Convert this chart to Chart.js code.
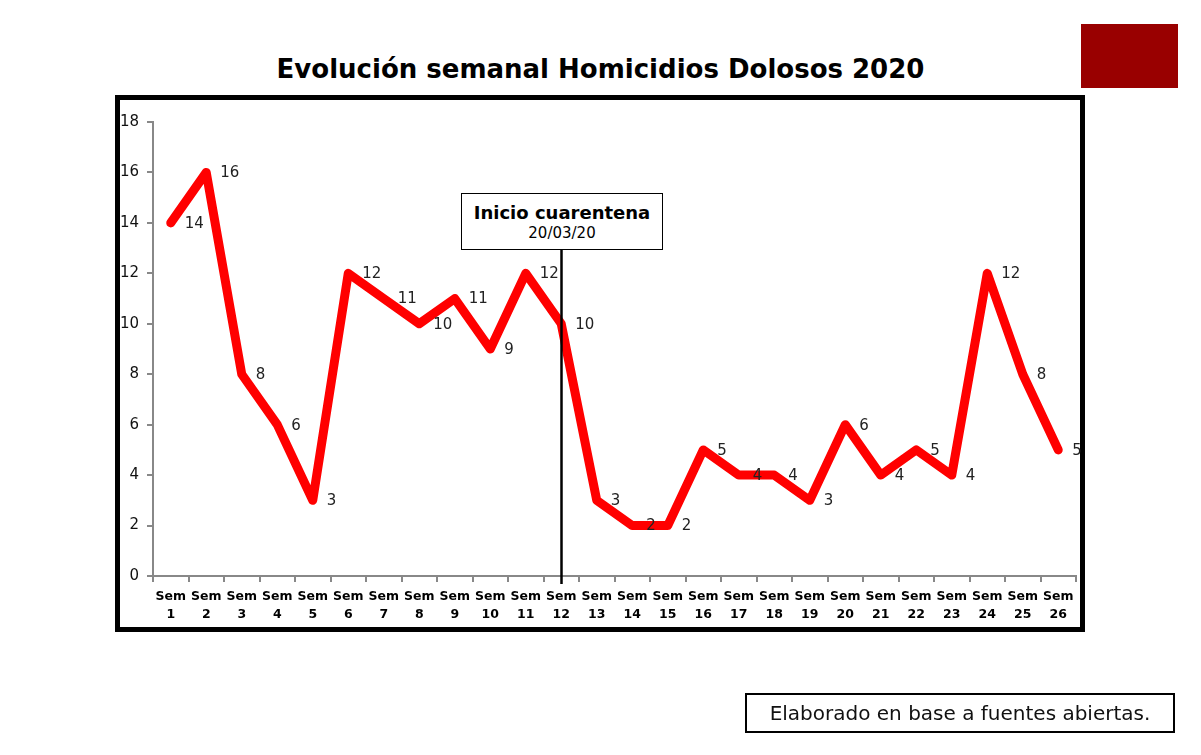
<!DOCTYPE html>
<html>
<head>
<meta charset="utf-8">
<script src="https://cdn.jsdelivr.net/npm/chart.js@4.4.1/dist/chart.umd.min.js"></script>
<style>
  html, body { margin: 0; padding: 0; background: #fff; }
  #wrap { position: relative; width: 1201px; height: 755px; overflow: hidden; font-family: "DejaVu Sans", sans-serif; }
  #title { position: absolute; left: 0; width: 1201px; top: 54px; text-align: center; font-size: 26px; font-weight: bold; color: #000; }
  #redbox { position: absolute; left: 1081px; top: 24px; width: 97px; height: 64px; background: #990000; }
  #frame { position: absolute; left: 115px; top: 95px; width: 960px; height: 527px; border: 5px solid #000; }
  #anno { position: absolute; left: 461px; top: 193px; width: 200px; height: 55px; border: 1px solid #000; background: #fff; text-align: center; }
  #anno .a1 { font-size: 18px; font-weight: bold; margin-top: 8px; }
  #anno .a2 { font-size: 15px; margin-top: 1px; }
  #foot { position: absolute; left: 745px; top: 693px; width: 426px; height: 36px; border: 2px solid #000; text-align: center; font-size: 20px; line-height: 36px; color: #111; }
  canvas { position: absolute; left: 0; top: 0; }
</style>
</head>
<body>
<div id="wrap">
  <div id="title">Evolución semanal Homicidios Dolosos 2020</div>
  <div id="redbox"></div>
  <div id="frame"></div>
  <canvas id="c" width="1201" height="755"></canvas>
  <div id="anno"><div class="a1">Inicio cuarentena</div><div class="a2">20/03/20</div></div>
  <div id="foot">Elaborado en base a fuentes abiertas.</div>
</div>
<script>
const weeks = ["1","2","3","4","5","6","7","8","9","10","11","12","13","14","15","16","17","18","19","20","21","22","23","24","25","26"];
const homicidios = [14,16,8,6,3,12,11,10,11,9,12,10,3,2,2,5,4,4,3,6,4,5,4,12,8,5];
const yTicks = [0,2,4,6,8,10,12,14,16,18];
const quarantineWeek = "12";

const labels = weeks.map(w => ["Sem", w]);

const valueLabels = {
  id: 'valueLabels',
  afterDatasetsDraw(chart) {
    const ctx = chart.ctx;
    const meta = chart.getDatasetMeta(0);
    ctx.save();
    ctx.font = '15px "DejaVu Sans", sans-serif';
    ctx.fillStyle = '#222';
    ctx.textAlign = 'left';
    ctx.textBaseline = 'middle';
    meta.data.forEach((pt, i) => {
      ctx.fillText(String(homicidios[i]), pt.x + 14, pt.y + 1);
    });
    ctx.restore();
  }
};

const quarantineLine = {
  id: 'quarantineLine',
  afterDatasetsDraw(chart) {
    const ctx = chart.ctx;
    const xs = chart.scales.x;
    const idx = weeks.indexOf(quarantineWeek);
    const x = Math.round(xs.getPixelForValue(idx)) + 0.5;
    ctx.save();
    ctx.strokeStyle = '#000';
    ctx.lineWidth = 2.5;
    ctx.beginPath();
    ctx.moveTo(x, 250);
    ctx.lineTo(x, chart.chartArea.bottom + 8);
    ctx.stroke();
    ctx.restore();
  }
};

new Chart(document.getElementById('c'), {
  type: 'line',
  data: {
    labels: labels,
    datasets: [{
      data: homicidios,
      borderColor: '#ff0000',
      backgroundColor: '#ff0000',
      borderWidth: 9,
      borderCapStyle: 'round',
      borderJoinStyle: 'round',
      pointRadius: 0,
      tension: 0,
      fill: false
    }]
  },
  options: {
    responsive: false,
    animation: false,
    devicePixelRatio: 1,
    layout: { padding: { left: 100, right: 125, top: 122, bottom: 119 } },
    plugins: { legend: { display: false }, tooltip: { enabled: false }, title: { display: false } },
    scales: {
      x: {
        offset: true,
        grid: { offset: true, drawOnChartArea: false, drawTicks: true, tickLength: 6, color: '#888', lineWidth: 2 },
        border: { display: true, color: '#888', width: 2 },
        ticks: {
          color: '#000',
          font: { family: '"DejaVu Sans", sans-serif', size: 12.5, weight: 'bold', lineHeight: 1.4 },
          maxRotation: 0, minRotation: 0, autoSkip: false, padding: 6
        },
        afterFit(s) { s.height = 60; }
      },
      y: {
        min: 0, max: 18,
        afterBuildTicks(s) { s.ticks = yTicks.map(v => ({ value: v })); },
        grid: { drawOnChartArea: false, drawTicks: true, tickLength: 6, color: '#888', lineWidth: 2 },
        border: { display: true, color: '#888', width: 2 },
        ticks: { color: '#111', font: { family: '"DejaVu Sans", sans-serif', size: 15 }, padding: 8 },
        afterFit(s) { s.width = 53; }
      }
    }
  },
  plugins: [valueLabels, quarantineLine]
});
</script>
</body>
</html>
